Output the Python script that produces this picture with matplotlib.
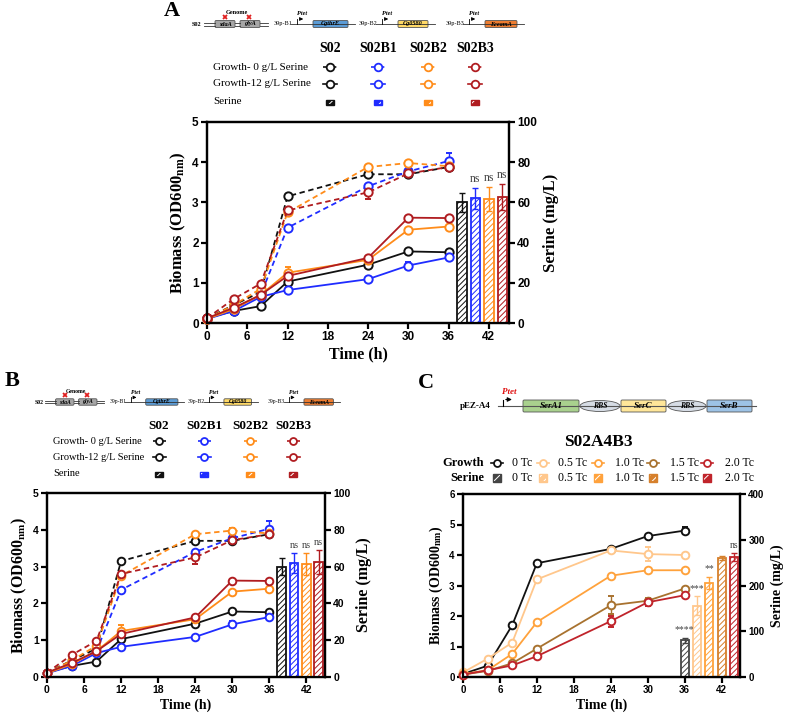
import matplotlib
matplotlib.use("Agg")
import matplotlib.pyplot as plt
from matplotlib.patches import FancyBboxPatch, Ellipse, Rectangle

plt.rcParams['font.family'] = ['Liberation Serif', 'DejaVu Serif']
plt.rcParams['mathtext.fontset'] = 'stix'
plt.rcParams['hatch.linewidth'] = 0.7

# ---------------- data ----------------
time = [0, 4, 8, 12, 24, 30, 36]
strains = ["S02", "S02B1", "S02B2", "S02B3"]
strain_colors = ["#111111", "#1f2cff", "#ff8c1a", "#b01c20"]

# growth, 0 g/L serine (dashed)
g0 = [[0.12, 0.45, 0.77, 3.15, 3.70, 3.70, 3.88],
      [0.10, 0.35, 0.70, 2.37, 3.40, 3.77, 4.03],
      [0.10, 0.45, 0.85, 2.75, 3.88, 3.98, 3.90],
      [0.12, 0.60, 0.98, 2.80, 3.25, 3.72, 3.88]]
g0_err = [[0, 0, 0, 0, 0.08, 0.07, 0.05],
          [0, 0, 0, 0, 0.05, 0.05, 0.20],
          [0, 0, 0, 0, 0.03, 0.06, 0.08],
          [0, 0, 0, 0, 0.17, 0.05, 0.05]]
# growth, 12 g/L serine (solid)
g12 = [[0.12, 0.30, 0.42, 1.03, 1.45, 1.78, 1.76],
       [0.10, 0.30, 0.65, 0.82, 1.09, 1.43, 1.63],
       [0.10, 0.35, 0.70, 1.25, 1.57, 2.32, 2.40],
       [0.12, 0.38, 0.70, 1.17, 1.62, 2.62, 2.61]]
g12_err = [[0, 0, 0, 0.03, 0.03, 0.03, 0.03],
           [0, 0, 0, 0.03, 0.03, 0.08, 0.03],
           [0, 0, 0, 0.15, 0.03, 0.03, 0.03],
           [0, 0, 0, 0.03, 0.03, 0.03, 0.03]]
serine_x = [38, 40, 42, 44]
serine = [60, 62, 61.5, 62.5]
serine_err = [4.6, 5.4, 6.0, 6.5]
serine_sig = ["", "ns", "ns", "ns"]

tc_labels = ["0 Tc", "0.5 Tc", "1.0 Tc", "1.5 Tc", "2.0 Tc"]
tc_line_colors = ["#111111", "#ffc78c", "#ffa23c", "#a8722f", "#c0242b"]
tc_bar_colors = ["#444444", "#ffc78c", "#ffa23c", "#d6802c", "#c0242b"]
c_growth = [[0.10, 0.37, 1.70, 3.73, 4.20, 4.62, 4.80],
            [0.15, 0.60, 1.13, 3.20, 4.15, 4.03, 4.00],
            [0.10, 0.22, 0.76, 1.80, 3.32, 3.50, 3.50],
            [0.08, 0.20, 0.45, 0.93, 2.35, 2.50, 2.90],
            [0.08, 0.22, 0.38, 0.68, 1.83, 2.45, 2.68]]
c_growth_err = [[0, 0, 0, 0, 0.03, 0.03, 0.12],
                [0, 0, 0, 0, 0.03, 0.22, 0.03],
                [0, 0, 0, 0, 0.03, 0.03, 0.03],
                [0, 0, 0, 0, 0.30, 0.10, 0.03],
                [0, 0, 0, 0, 0.18, 0.12, 0.05]]
c_serine_x = [36, 38, 40, 42, 44]
c_serine = [80, 156, 205, 260, 262]
c_serine_err = [5, 20, 13, 4, 8]
c_sig = ["****", "***", "**", "", "ns"]

W, H = 790, 721
fig = plt.figure(figsize=(W / 100, H / 100), dpi=100)
ov = fig.add_axes([0, 0, 1, 1])
ov.set_xlim(0, W)
ov.set_ylim(H, 0)
ov.axis("off")


def px_axes(l, r, t, b):
    return fig.add_axes([l / W, (H - b) / H, (r - l) / W, (b - t) / H])


def style(ax, ax2, fs):
    ax.set_xlim(0, 45)
    ax.set_xticks(range(0, 43, 6))
    for a in (ax, ax2):
        for sp in a.spines.values():
            sp.set_linewidth(1.6)
        a.tick_params(width=1.6, length=4, labelsize=fs, pad=2)
        for lab in a.get_xticklabels() + a.get_yticklabels():
            lab.set_fontfamily('Liberation Sans')
            lab.set_fontweight('bold')


def growth_line(ax, y, err, color, ls, ms):
    ax.errorbar(time, y, yerr=err, color=color, ls=ls, lw=1.3,
                marker='o', ms=ms, mfc='white', mec=color, mew=1.4,
                capsize=2.5, elinewidth=1, dashes=(3, 2) if ls == '--' else (None, None),
                clip_on=False, zorder=3)


def bars(ax2, xs, vals, errs, colors, sig, w, fs, offset):
    for x, v, e, c, s in zip(xs, vals, errs, colors, sig):
        ax2.bar(x, v, width=w, color='white', edgecolor=c, hatch='//////',
                lw=1.3, zorder=2)
        ax2.errorbar(x, v, yerr=e, color=c, capsize=2.5, elinewidth=1, zorder=3)
        if s:
            ax2.text(x, v + e + offset, s, ha='center', va='bottom',
                     fontsize=fs, color='#444444')


def strain_panel(l, r, t, b, tfs, lfs_x, lfs_y, ms):
    ax = px_axes(l, r, t, b)
    ax2 = ax.twinx()
    for i in range(4):
        growth_line(ax, g0[i], g0_err[i], strain_colors[i], '--', ms)
        growth_line(ax, g12[i], g12_err[i], strain_colors[i], '-', ms)
    bars(ax2, serine_x, serine, serine_err, strain_colors, serine_sig, 1.4, tfs, 1.5)
    ax.set_ylim(0, 5)
    ax2.set_ylim(0, 100)
    ax2.set_yticks(range(0, 101, 20))
    style(ax, ax2, tfs)
    ax.set_xlabel("Time (h)", fontsize=lfs_x, fontweight='bold', labelpad=2)
    ax.set_ylabel(r"Biomass (OD600$_{\mathbf{nm}}$)", fontsize=lfs_y, fontweight='bold', labelpad=3)
    ax2.set_ylabel("Serine (mg/L)", fontsize=lfs_y, fontweight='bold', labelpad=4)
    return ax


def gene_box(x0, x1, y, h, color, name, fs):
    ov.add_patch(FancyBboxPatch((x0, y - h / 2), x1 - x0, h,
                                boxstyle="round,pad=0,rounding_size=1.2",
                                fc=color, ec='#555555', lw=0.6))
    ov.text((x0 + x1) / 2, y, name, ha='center', va='center', fontsize=fs,
            style='italic', fontweight='bold')


def promoter(x, y, s, fs, color='k', lw=0.6):
    ov.plot([x, x], [y, y - 5 * s], color='k', lw=lw)
    ov.annotate("", xy=(x + 9 * s, y - 5 * s), xytext=(x, y - 5 * s),
                arrowprops=dict(arrowstyle='-|>', lw=lw, color='k', mutation_scale=4 * s + 1))
    ov.text(x + 5 * s, y - 8 * s, "Ptet", ha='center', va='bottom', fontsize=fs,
            style='italic', fontweight='bold', color=color)


def strain_diagram(x0, y0, s):
    X = lambda x: x0 + s * (x - 197)
    Y = lambda y: y0 + s * (y - 24)
    fs = 4.5 * s
    ov.text(X(197), Y(24), "S02", fontsize=fs, fontweight='bold', ha='center', va='center')
    for xa, xb in [(204, 215), (235, 240), (260, 268)]:
        for dy in (-1.5, 1.5):
            ov.plot([X(xa), X(xb)], [Y(24 + dy)] * 2, color='#333333', lw=0.6)
    gene_box(X(215), X(235), Y(24), 7 * s, '#a6a6a6', "sdaA", fs)
    gene_box(X(240), X(260), Y(24), 7 * s, '#a6a6a6', "glyA", fs)
    ov.plot([X(225), X(249)], [Y(16.5), Y(16.5)], ls='none', marker='x',
            ms=3.2 * s, mew=1.3, color='#e02020')
    ov.text(X(237), Y(12.5), "Genome", ha='center', va='center', fontsize=fs, fontweight='bold')
    mods = [("39p-B1", 313, 348, '#5b9bd5', "CgthrE"),
            ("39p-B2", 398, 428, '#ffd966', "Cg0580"),
            ("39p-B3", 485, 517, '#ed7d31', "EceamA")]
    for lab, bx0, bx1, col, gene in mods:
        ov.text(X(bx0 - 30), Y(24), lab, ha='center', va='center', fontsize=fs)
        ov.plot([X(bx0 - 22), X(bx1 + 7)], [Y(24)] * 2, color='#333333', lw=0.6)
        promoter(X(bx0 - 16), Y(24), s, fs)
        gene_box(X(bx0), X(bx1), Y(24), 7 * s, col, gene, fs)


def serine_icon(x, y, c, w=8, h=5):
    ov.add_patch(Rectangle((x - w / 2, y - h / 2), w, h, fc=c, ec=c, lw=1.0))
    ov.add_patch(Rectangle((x - w / 2 + 1, y - h / 2 + 1), w - 2, h - 2, fc='none',
                           ec='white', hatch='////', lw=0))


def legend_table(xs, y_head, rows_y, label_x, fs_head, fs_row, ms, half):
    for x, name in zip(xs, strains):
        ov.text(x, y_head, name, ha='center', va='center', fontsize=fs_head, fontweight='bold')
    for y, lab in zip(rows_y, ["Growth- 0 g/L Serine", "Growth-12 g/L Serine", "Serine"]):
        ov.text(label_x, y, lab, ha='left', va='center', fontsize=fs_row)
    for x, c in zip(xs, strain_colors):
        ov.plot([x - half, x, x + half], [rows_y[0]] * 3, color=c, lw=1.2, dashes=(3, 2),
                marker='o', markevery=[1], ms=ms, mfc='white', mew=1.3)
        ov.plot([x - half, x, x + half], [rows_y[1]] * 3, color=c, lw=1.2,
                marker='o', markevery=[1], ms=ms, mfc='white', mew=1.3)
        serine_icon(x, rows_y[2], c)


# ---------------- panel A ----------------
ov.text(172, 11, "A", fontsize=16, fontweight='bold', ha='center', va='center')
strain_diagram(197, 24, 1.0)
legend_table([330, 378, 428, 475], 49, [67, 84, 102], 213, 10, 8, 5.5, 7)
strain_panel(207, 509, 122, 323, 8.5, 11.5, 12, 6)

# ---------------- panel B ----------------
ov.text(12, 381, "B", fontsize=16, fontweight='bold', ha='center', va='center')
strain_diagram(39, 402, 0.92)
legend_table([159, 204, 250, 293], 426, [441, 457, 474], 53, 9.5, 7.5, 5, 6.5)
strain_panel(47, 325, 493, 677, 7.5, 10, 11.5, 5.5)

# ---------------- panel C ----------------
ov.text(426, 383, "C", fontsize=16, fontweight='bold', ha='center', va='center')
ov.text(475, 406, "pEZ-A4", fontsize=6.5, fontweight='bold', ha='center', va='center')
ov.plot([498, 756], [406, 406], color='#555555', lw=0.8)
promoter(503, 406, 1.3, 6.5, color='#e01010', lw=0.8)
for x0, x1, col, gene in [(523, 579, '#a9d18e', "SerA1"), (621, 666, '#ffe699', "SerC"),
                          (707, 752, '#9dc3e6', "SerB")]:
    gene_box(x0, x1, 406, 12, col, gene, 6.5)
for x0, x1 in [(580, 620), (668, 706)]:
    ov.add_patch(Ellipse(((x0 + x1) / 2, 406), x1 - x0, 11, fc='#d6dce5', ec='#555555', lw=0.6))
    ov.text((x0 + x1) / 2, 406, "RBS", ha='center', va='center', fontsize=5.5,
            style='italic', fontweight='bold')
ov.text(598, 442, "S02A4B3", fontsize=12.5, fontweight='bold', ha='center', va='center')
ov.text(484, 463, "Growth", fontsize=9, fontweight='bold', ha='right', va='center')
ov.text(484, 478, "Serine", fontsize=9, fontweight='bold', ha='right', va='center')
for mx, tx, lc, bc, lab in zip([497, 543, 598, 653, 707], [512, 558, 615, 670, 725],
                               tc_line_colors, tc_bar_colors, tc_labels):
    ov.plot([mx - 6, mx, mx + 6], [463] * 3, color=lc, lw=1.2, marker='o', markevery=[1],
            ms=5, mfc='white', mew=1.3)
    serine_icon(mx, 478, bc, 8, 8)
    ov.text(tx, 463, lab, fontsize=8.5, ha='left', va='center')
    ov.text(tx, 478, lab, fontsize=8.5, ha='left', va='center')

axc = px_axes(463, 740, 494, 677)
axc2 = axc.twinx()
for i in range(5):
    growth_line(axc, c_growth[i], c_growth_err[i], tc_line_colors[i], '-', 5.5)
bars(axc2, c_serine_x, c_serine, c_serine_err, tc_bar_colors, c_sig, 1.3, 7, 8)
axc.set_ylim(0, 6)
axc2.set_ylim(0, 400)
axc2.set_yticks(range(0, 401, 100))
style(axc, axc2, 7)
axc.set_xlabel("Time (h)", fontsize=10, fontweight='bold', labelpad=2)
axc.set_ylabel(r"Biomass (OD600$_{\mathbf{nm}}$)", fontsize=10, fontweight='bold', labelpad=3)
axc2.set_ylabel("Serine (mg/L)", fontsize=10, fontweight='bold', labelpad=4)

fig.savefig("out.png", dpi=100)
